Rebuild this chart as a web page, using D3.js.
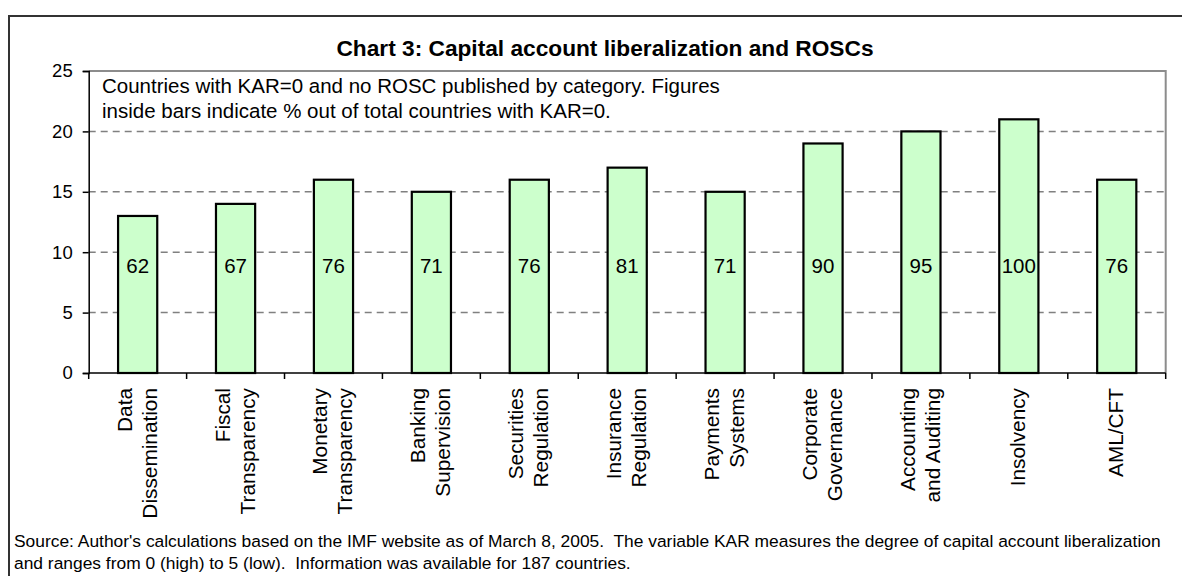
<!DOCTYPE html>
<html>
<head>
<meta charset="utf-8">
<script src="https://cdn.jsdelivr.net/npm/d3@7"></script>
<style>
  body { margin: 0; background: #fff; }
  text { font-family: "Liberation Sans", Arial, sans-serif; fill: #000; white-space: pre; }
</style>
</head>
<body>
<div id="wrapper"></div>
<script>
// category names, one array entry per label line
const categories = [
    ["Data", "Dissemination"],
    ["Fiscal", "Transparency"],
    ["Monetary", "Transparency"],
    ["Banking", "Supervision"],
    ["Securities", "Regulation"],
    ["Insurance", "Regulation"],
    ["Payments", "Systems"],
    ["Corporate", "Governance"],
    ["Accounting", "and Auditing"],
    ["Insolvency"],
    ["AML/CFT"]
];
// countries with KAR=0 and no ROSC
const countryCounts = [13, 14, 16, 15, 16, 17, 15, 19, 20, 21, 16];
// % of all countries with KAR=0
const percentLabels = [62, 67, 76, 71, 76, 81, 71, 90, 95, 100, 76];
const yTicks = [0, 5, 10, 15, 20, 25];

const titleText = "Chart 3: Capital account liberalization and ROSCs";
const noteLines = [
    "Countries with KAR=0 and no ROSC published by category. Figures",
    "inside bars indicate % out of total countries with KAR=0."
];
const sourceLines = [
    "Source: Author's calculations based on the IMF website as of March 8, 2005.  The variable KAR measures the degree of capital account liberalization",
    "and ranges from 0 (high) to 5 (low).  Information was available for 187 countries."
];

const dimension = {
    width: 1182,
    height: 576,
    margin: { top: 71, left: 88.7, right: 16.3, bottom: 203 }
};
dimension.boundedWidth = dimension.width - dimension.margin.left - dimension.margin.right;
dimension.boundedHeight = dimension.height - dimension.margin.top - dimension.margin.bottom;

const svg = d3.select("#wrapper").append("svg")
    .attr("width", dimension.width)
    .attr("height", dimension.height);

// outer frame (runs off the bottom and right of the picture)
svg.append("rect")
    .attr("x", 9).attr("y", 16)
    .attr("width", 1185).attr("height", 600)
    .attr("fill", "none")
    .attr("stroke", "#333")
    .attr("stroke-width", 2);

svg.append("text")
    .attr("x", 605).attr("y", 56)
    .attr("text-anchor", "middle")
    .style("font-size", "22.7px")
    .style("font-weight", "bold")
    .text(titleText);

const bounded = svg.append("g")
    .attr("transform", `translate(${dimension.margin.left},${dimension.margin.top})`);

const xScaler = d3.scaleBand()
    .domain(d3.range(categories.length))
    .range([0, dimension.boundedWidth])
    .paddingInner(0.6)
    .paddingOuter(0.3);

const yScaler = d3.scaleLinear()
    .domain([0, 25])
    .range([dimension.boundedHeight, 0]);

// plot area border, grey on top and right
bounded.append("path")
    .attr("d", `M0,0H${dimension.boundedWidth}V${dimension.boundedHeight}`)
    .attr("fill", "none")
    .attr("stroke", "#8c8c8c")
    .attr("stroke-width", 2);

// dashed grid lines
bounded.append("g")
    .selectAll("line")
    .data(yTicks.filter(t => t > 0 && t < 25))
    .join("line")
    .attr("x1", 0).attr("x2", dimension.boundedWidth)
    .attr("y1", d => yScaler(d)).attr("y2", d => yScaler(d))
    .attr("stroke", "#808080")
    .attr("stroke-width", 1.5)
    .attr("stroke-dasharray", "7,5");

// bars
bounded.append("g")
    .selectAll("rect")
    .data(countryCounts)
    .join("rect")
    .attr("x", (d, i) => xScaler(i))
    .attr("y", d => yScaler(d))
    .attr("width", xScaler.bandwidth())
    .attr("height", d => yScaler(0) - yScaler(d))
    .attr("fill", "#ccffcc")
    .attr("stroke", "#000")
    .attr("stroke-width", 2.2);

// figures inside bars
bounded.append("g")
    .selectAll("text")
    .data(percentLabels)
    .join("text")
    .attr("x", (d, i) => xScaler(i) + xScaler.bandwidth() / 2)
    .attr("y", yScaler(8.9))
    .attr("text-anchor", "middle")
    .attr("dominant-baseline", "central")
    .style("font-size", "20.5px")
    .text(d => d);

// y axis
const y_axis = d3.axisLeft(yScaler).tickValues(yTicks).tickSize(6).tickPadding(10);
const yAxisG = bounded.append("g").call(y_axis);
yAxisG.select(".domain").attr("stroke", "#000").attr("stroke-width", 1.5);
yAxisG.selectAll(".tick line").attr("stroke", "#000").attr("stroke-width", 1.5);
yAxisG.selectAll(".tick text")
    .style("font-size", "18.5px")
    .style("font-family", '"Liberation Sans", Arial, sans-serif')
    .attr("fill", "#000");

// x axis line with ticks on category boundaries
const step = xScaler.step();
const xBounds = d3.range(categories.length + 1).map(i => i === categories.length ? dimension.boundedWidth : xScaler(i) - step * 0.3);
const xAxisG = bounded.append("g").attr("transform", `translate(0,${dimension.boundedHeight})`);
xAxisG.append("line")
    .attr("x1", 0).attr("x2", dimension.boundedWidth)
    .attr("stroke", "#000").attr("stroke-width", 1.5);
xAxisG.selectAll(".xtick")
    .data(xBounds)
    .join("line")
    .attr("class", "xtick")
    .attr("x1", d => d).attr("x2", d => d)
    .attr("y1", 0).attr("y2", 6)
    .attr("stroke", "#000").attr("stroke-width", 1.5);

// rotated category labels
const lineGap = 25;
const catLabels = xAxisG.selectAll(".cat")
    .data(categories)
    .join("text")
    .attr("class", "cat")
    .attr("transform", (d, i) => `translate(${xScaler(i) + xScaler.bandwidth() / 2 - 1},15) rotate(-90)`)
    .attr("text-anchor", "end")
    .style("font-size", "20.8px");
catLabels.selectAll("tspan")
    .data(d => d.map((t, j) => ({ t, off: (j - (d.length - 1) / 2) * lineGap })))
    .join("tspan")
    .attr("x", 0)
    .attr("y", d => d.off)
    .attr("dominant-baseline", "central")
    .text(d => d.t);

// note in the top left of the plot
svg.append("g")
    .selectAll("text")
    .data(noteLines)
    .join("text")
    .attr("x", 102)
    .attr("y", (d, i) => 93 + i * 25)
    .style("font-size", "20.5px")
    .text(d => d);

// source lines below
svg.append("g")
    .selectAll("text")
    .data(sourceLines)
    .join("text")
    .attr("x", 14)
    .attr("y", (d, i) => 547 + i * 22)
    .style("font-size", "17.4px")
    .text(d => d);
</script>
</body>
</html>
